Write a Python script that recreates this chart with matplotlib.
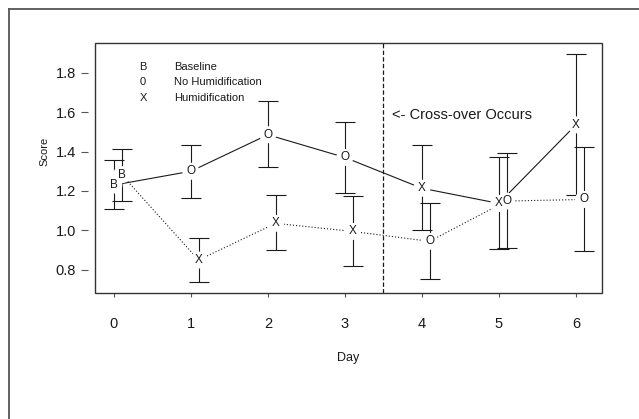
import matplotlib
matplotlib.use('Agg')
from matplotlib import pyplot as plt
from matplotlib.lines import Line2D
from matplotlib.patches import Rectangle

plt.rcParams['font.family'] = ['Liberation Sans', 'DejaVu Sans']

days = [0, 1, 2, 3, 4, 5, 6]
shift = 0.1   # second group is drawn a little to the right

# group 1 (solid line): no humidification first, humidification after cross-over
g1_marks = ['B', 'O', 'O', 'O', 'X', 'X', 'X']
g1_mean = [1.23, 1.30, 1.485, 1.37, 1.214, 1.137, 1.535]
g1_low = [1.107, 1.162, 1.322, 1.192, 1.00, 0.905, 1.182]
g1_high = [1.356, 1.435, 1.657, 1.55, 1.435, 1.37, 1.895]

# group 2 (dotted line): humidification first, none after cross-over
g2_marks = ['B', 'X', 'X', 'X', 'O', 'O', 'O']
g2_mean = [1.283, 0.85, 1.036, 0.995, 0.945, 1.149, 1.157]
g2_low = [1.147, 0.738, 0.901, 0.82, 0.753, 0.91, 0.894]
g2_high = [1.415, 0.96, 1.179, 1.174, 1.14, 1.39, 1.424]

yticks = [0.8, 1.0, 1.2, 1.4, 1.6, 1.8]
legend_syms = ['B', '0', 'X']
legend_names = ['Baseline', 'No Humidification', 'Humidification']
legend_y = [1.829, 1.753, 1.672]
crossover_day = 3.5
ink = '#1a1a1a'


def draw_group(ax, x, mean, low, high, marks, ls):
	yerr = [[m - l for m, l in zip(mean, low)], [h - m for m, h in zip(mean, high)]]
	ax.errorbar(x, mean, yerr=yerr, fmt='none', ecolor=ink, elinewidth=0.8,
				capsize=7.5, capthick=0.8, zorder=1)
	ax.plot(x, mean, color=ink, lw=0.8, linestyle=ls, zorder=2)
	# white blobs give the gaps round each letter, as in R's type="b"
	ax.scatter(x, mean, s=150, c='white', edgecolors='none', zorder=3)
	for xi, yi, m in zip(x, mean, marks):
		ax.text(xi, yi, m, ha='center', va='center', fontsize=8.5, color=ink, zorder=4)


fig = plt.figure(figsize=(6.39, 4.19), dpi=100)
ax = fig.add_axes([95 / 639, 1 - 293 / 419, 507 / 639, 250 / 419])

draw_group(ax, days, g1_mean, g1_low, g1_high, g1_marks, '-')
draw_group(ax, [d + shift for d in days], g2_mean, g2_low, g2_high, g2_marks, (0, (1, 1.8)))

ax.axvline(crossover_day, color=ink, lw=0.9, linestyle=(0, (3.5, 1.8)), zorder=1)
ax.text(crossover_day + 0.11, 1.586, '<- Cross-over Occurs', fontsize=10.5,
		ha='left', va='center', color=ink)

for s, name, y in zip(legend_syms, legend_names, legend_y):
	ax.text(0.38, y, s, fontsize=8, ha='center', va='center', color=ink)
	ax.text(0.78, y, name, fontsize=8, ha='left', va='center', color=ink)

ax.set_xlim(-0.245, 6.34)
ax.set_ylim(0.683, 1.95)
ax.set_xticks(days)
ax.set_yticks(yticks)
ax.set_yticklabels(['%.1f' % v for v in yticks])

for sp in ax.spines.values():
	sp.set_visible(False)
ax.spines['left'].set_position(('outward', 5))
ax.add_patch(Rectangle((0, 0), 1, 1, transform=ax.transAxes, fill=False,
					   edgecolor='#333333', lw=1.0, clip_on=False, zorder=5))

ax.tick_params(axis='x', length=3, width=0.8, pad=14, labelsize=10.5, color='#555555', labelcolor=ink)
ax.tick_params(axis='y', length=4.8, width=0.8, pad=4, labelsize=10.5, color='#555555', labelcolor=ink)

ax.set_xlabel('Day', fontsize=9, color=ink)
ax.xaxis.set_label_coords(0.5, -0.235)
ax.set_ylabel('Score', fontsize=8, color=ink)
ax.yaxis.set_label_coords(-0.09, 0.565)

# outer frame of the page (only left and top edges show)
fig.add_artist(Line2D([8.5 / 639, 8.5 / 639], [0, 1 - 9 / 419], transform=fig.transFigure,
					  color='#555555', lw=1.3))
fig.add_artist(Line2D([8.5 / 639, 1], [1 - 9 / 419, 1 - 9 / 419], transform=fig.transFigure,
					  color='#555555', lw=1.3))

fig.savefig('out.png', dpi=100)
